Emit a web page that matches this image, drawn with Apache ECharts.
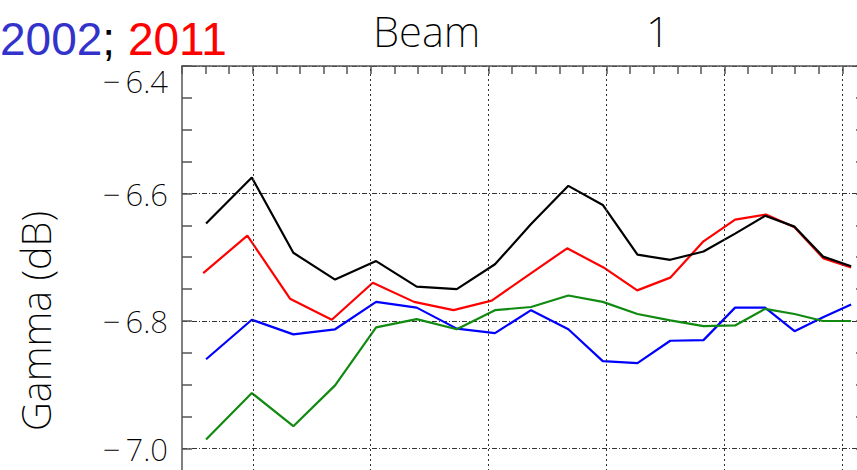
<!DOCTYPE html>
<html>
<head>
<meta charset="utf-8">
<script src="https://cdn.jsdelivr.net/npm/echarts@6/dist/echarts.min.js"></script>
<style>
  html, body { margin: 0; padding: 0; background: #ffffff; }
  #chart { width: 857px; height: 470px; }
</style>
</head>
<body>
<div id="chart"></div>
<script>
// Sample positions along the horizontal axis (shared by black, blue and green curves)
const xMain = [18.02, 19.96, 21.72, 23.49, 25.23, 26.95, 28.65, 30.27, 31.80, 33.38,
               34.84, 36.31, 37.70, 39.11, 40.45, 41.72, 42.97, 44.18, 45.37];
// The red curve is sampled at slightly different positions
const xRed  = [17.90, 19.77, 21.58, 23.35, 25.09, 26.84, 28.51, 30.13, 31.76, 33.33,
               34.87, 36.30, 37.70, 39.11, 40.45, 41.76, 42.97, 44.20, 45.37];

// Gamma values in dB
const blackVals = [-6.647, -6.575, -6.693, -6.735, -6.706, -6.746, -6.750, -6.711, -6.648, -6.588,
                   -6.618, -6.696, -6.704, -6.691, -6.663, -6.635, -6.652, -6.699, -6.714];
const redVals   = [-6.725, -6.666, -6.765, -6.798, -6.740, -6.770, -6.783, -6.768, -6.726, -6.686,
                   -6.716, -6.752, -6.732, -6.675, -6.641, -6.633, -6.653, -6.702, -6.716];
const blueVals  = [-6.860, -6.798, -6.821, -6.813, -6.770, -6.779, -6.812, -6.819, -6.783, -6.813,
                   -6.863, -6.866, -6.831, -6.830, -6.779, -6.779, -6.816, -6.794, -6.774];
const greenVals = [-6.986, -6.913, -6.965, -6.901, -6.810, -6.797, -6.813, -6.783, -6.778, -6.760,
                   -6.770, -6.789, -6.799, -6.808, -6.807, -6.781, -6.789, -6.800, -6.800];

// Axis ranges and grid positions
const yMin = -7.2, yMax = -6.4, yStep = 0.2;
const xMin = 17, xMax = 46;
const xGridLines = [20, 25, 30, 35, 40, 45];

const pairs = (xs, ys) => xs.map((x, i) => [x, ys[i]]);
const thinFont = 'Noto Sans';
const thinWeight = 200;
const axisColor = '#555555';

const chart = echarts.init(document.getElementById('chart'), null, { renderer: 'svg' });

const lineSeries = (name, xs, ys, color) => ({
  name: name,
  type: 'line',
  data: pairs(xs, ys),
  showSymbol: false,
  symbol: 'none',
  lineStyle: { color: color, width: 2.2 },
  z: 3,
  animation: false
});

const yearStyle = (color) => ({ color: color, fontSize: 46, fontFamily: 'Liberation Sans', fontWeight: 'normal' });

chart.setOption({
  animation: false,
  backgroundColor: '#ffffff',
  title: [
    {
      text: '{b|2002}{k|; }{r|2011}',
      left: 0, top: 16, padding: 0,
      textStyle: {
        fontWeight: 'normal',
        rich: { b: yearStyle('#3333cc'), k: yearStyle('#000000'), r: yearStyle('#ff0000') }
      }
    },
    {
      text: 'Beam', left: 373, top: 9, padding: 0,
      textStyle: { color: '#000000', fontSize: 42, lineHeight: 42, fontFamily: thinFont, fontWeight: thinWeight }
    },
    {
      text: '1', left: 646, top: 9, padding: 0,
      textStyle: { color: '#000000', fontSize: 42, lineHeight: 42, fontFamily: thinFont, fontWeight: thinWeight }
    }
  ],
  grid: {
    left: 182, top: 66, right: -9, bottom: -106,
    outerBoundsMode: 'none',
    containLabel: false
  },
  xAxis: {
    type: 'value',
    position: 'top',
    min: xMin, max: xMax, interval: 1,
    axisLine: { show: true, onZero: false, lineStyle: { color: axisColor, width: 1.5 } },
    axisTick: { show: true, inside: true, length: 8, lineStyle: { color: axisColor, width: 1.5 } },
    axisLabel: { show: false },
    splitLine: { show: false }
  },
  yAxis: [
    {
      type: 'value',
      position: 'left',
      min: yMin, max: yMax, interval: yStep,
      name: 'Gamma (dB)',
      nameLocation: 'middle',
      nameRotate: 90,
      nameGap: 127,
      nameTextStyle: { color: '#000000', fontSize: 40, fontFamily: thinFont, fontWeight: thinWeight },
      axisLine: { show: true, onZero: false, lineStyle: { color: axisColor, width: 1.5 } },
      axisTick: { show: true, inside: true, length: 10, lineStyle: { color: axisColor, width: 1.5 } },
      minorTick: { show: true, splitNumber: 4, length: 10, lineStyle: { color: axisColor, width: 1.5 } },
      axisLabel: {
        show: true,
        margin: 14,
        formatter: function (v) {
          if (Math.abs(v - yMin) < 1e-6) return '';
          const s = '\u2212\u2009' + Math.abs(v).toFixed(1);
          return Math.abs(v - yMax) < 1e-6 ? '{top|' + s + '}' : '{n|' + s + '}';
        },
        rich: {
          n: { color: '#000000', fontSize: 31, fontFamily: thinFont, fontWeight: thinWeight },
          top: { color: '#000000', fontSize: 31, fontFamily: thinFont, fontWeight: thinWeight, padding: [30, 0, 0, 0] }
        }
      },
      splitLine: { show: true, lineStyle: { color: '#333333', width: 1, type: [5, 2, 1, 2] } }
    },
    {
      type: 'value',
      position: 'right',
      min: yMin, max: yMax, interval: yStep,
      axisLine: { show: true, onZero: false, lineStyle: { color: axisColor, width: 1.5 } },
      axisTick: { show: true, inside: true, length: 10, lineStyle: { color: axisColor, width: 1.5 } },
      minorTick: { show: true, splitNumber: 4, length: 10, lineStyle: { color: axisColor, width: 1.5 } },
      axisLabel: { show: false },
      splitLine: { show: false }
    }
  ],
  series: [
    {
      name: 'vertical grid',
      type: 'line',
      data: [],
      z: 1,
      markLine: {
        silent: true,
        symbol: 'none',
        label: { show: false },
        lineStyle: { color: '#333333', width: 1, type: [2, 3] },
        data: xGridLines.map(v => ({ xAxis: v }))
      }
    },
    lineSeries('red', xRed, redVals, '#ff0000'),
    lineSeries('black', xMain, blackVals, '#000000'),
    lineSeries('blue', xMain, blueVals, '#0000ff'),
    lineSeries('green', xMain, greenVals, '#108a10')
  ]
});
</script>
</body>
</html>
